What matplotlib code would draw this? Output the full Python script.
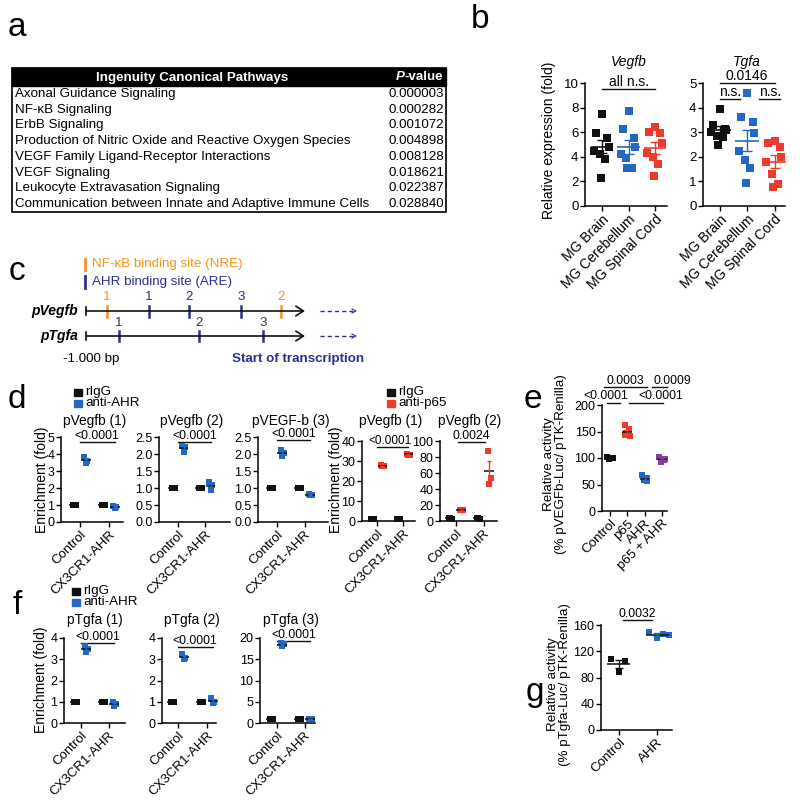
import numpy as np
import matplotlib
matplotlib.use('Agg')
import matplotlib.pyplot as plt
from matplotlib.patches import Rectangle

plt.rcParams['font.family'] = ['Liberation Sans', 'DejaVu Sans']

W, H = 800, 801
BLACK = '#111111'; BLUE = '#2468c4'; RED = '#ee3a2c'; PURPLE = '#8a3e97'
ORANGE = '#f7941d'; NAVY = '#2b2f8f'

# ---------------- data ----------------
# panel a
pathways = ['Axonal Guidance Signaling', 'NF-κB Signaling', 'ErbB Signaling',
            'Production of Nitric Oxide and Reactive Oxygen Species',
            'VEGF Family Ligand-Receptor Interactions', 'VEGF Signaling',
            'Leukocyte Extravasation Signaling',
            'Communication between Innate and Adaptive Immune Cells']
pvalues = [0.000003, 0.000282, 0.001072, 0.004898, 0.008128, 0.018621, 0.022387, 0.028840]

# panel b
b_groups = ['MG Brain', 'MG Cerebellum', 'MG Spinal Cord']
vegfb_brain = [7.45, 5.95, 5.5, 4.8, 4.45, 4.25, 3.8, 2.3]
vegfb_cereb = [7.75, 6.25, 5.5, 4.8, 4.2, 3.9, 3.1, 3.1]
vegfb_spinal = [6.4, 6.0, 5.95, 5.1, 4.3, 4.0, 3.4, 2.4]
tgfa_brain = [3.95, 3.3, 3.15, 3.1, 3.0, 2.85, 2.8, 2.5]
tgfa_cereb = [4.6, 3.6, 3.42, 2.95, 2.25, 1.85, 1.55, 0.95]
tgfa_spinal = [2.65, 2.55, 2.4, 2.0, 1.8, 1.3, 0.9, 0.78]

# panel c (site positions in bp relative to start of transcription)
vegfb_nre = [-904, -110]
vegfb_are = [-712, -530, -292]
tgfa_are = [-849, -484, -192]

# panel d / f (ChIP enrichment), order: Control rIgG, Control Ab, CX3CR1 rIgG, CX3CR1 Ab
chip_conditions = ['Control', 'CX3CR1-AHR']
d1_vals = [[1.0, 1.0, 1.0], [3.8, 3.6, 3.5], [1.0, 1.0, 1.0], [0.95, 0.9, 0.85]]
d2_vals = [[1.0, 1.0, 1.0], [2.25, 2.2, 2.05], [1.0, 1.0, 1.0], [1.18, 1.08, 0.95]]
d3_vals = [[1.0, 1.0, 1.0], [2.12, 2.02, 1.95], [1.0, 1.0, 1.0], [0.82, 0.8, 0.78]]
d4_vals = [[1.2, 1.0, 1.1], [27.9, 27.5, 27.3], [1.0, 1.1, 1.0], [33.6, 33.2, 33.0]]
d5_vals = [[3.3, 3.0, 3.5], [14.0, 13.5, 13.2], [3.2, 3.0, 3.4], [87.0, 54.0, 46.0]]
f1_vals = [[1.0, 1.0, 1.0], [3.62, 3.5, 3.36], [1.0, 1.0, 1.0], [0.98, 0.9, 0.8]]
f2_vals = [[1.0, 1.0, 1.0], [3.25, 3.05, 3.0], [1.0, 1.0, 1.0], [1.2, 1.0, 0.95]]
f3_vals = [[1.0, 1.0, 1.0], [18.8, 18.5, 18.1], [1.0, 1.0, 1.0], [1.05, 1.0, 0.95]]

# panel e
e_groups = ['Control', 'p65', 'AHR', 'p65 + AHR']
e_control = [101, 100, 99, 100]
e_p65 = [162, 155, 148, 141, 143]
e_ahr = [67, 62, 58, 57]
e_p65ahr = [101, 97, 93, 99]

# panel g
g_groups = ['Control', 'AHR']
g_control = [108, 105, 88]
g_ahr = [150, 146, 140, 145]

# ---------------- helpers ----------------
fig = plt.figure(figsize=(W / 100, H / 100), dpi=100)
ov = fig.add_axes([0, 0, 1, 1])
ov.set_xlim(0, W); ov.set_ylim(H, 0); ov.axis('off')


def add_ax(x0, y0, x1, y1):
    return fig.add_axes([x0 / W, 1 - y1 / H, (x1 - x0) / W, (y1 - y0) / H])


def style(ax, fs=9):
    for s in ['top', 'right']:
        ax.spines[s].set_visible(False)
    for s in ['left', 'bottom']:
        ax.spines[s].set_linewidth(1.1)
    ax.tick_params(width=1.0, length=3.5, labelsize=fs, pad=1.2)
    ax.patch.set_alpha(0)


def xrot(ax, labels, fs):
    ax.set_xticklabels(labels, rotation=45, ha='right', va='top',
                       rotation_mode='anchor', fontsize=fs)


def group(ax, x, vals, color, s, hw, offs, meancol=None, cap=2.0, lw=1.2):
    vals = np.asarray(vals, float)
    offs = np.asarray(offs[:len(vals)])
    ax.scatter(x + offs, vals, s=s, marker='s', color=color, lw=0, zorder=3, clip_on=False)
    m = vals.mean(); se = vals.std(ddof=1) / np.sqrt(len(vals))
    ax.plot([x - hw, x + hw], [m, m], color=meancol or color, lw=lw, zorder=4,
            solid_capstyle='butt', clip_on=False)
    if se > 0:
        ax.errorbar(x, m, yerr=se, color=color, capsize=cap, lw=1.0, capthick=1.0,
                    zorder=4, fmt='none', clip_on=False)


def sig(ax, x0, x1, y, text, tx=None, ty=None, fs=9):
    ax.plot([x0, x1], [y, y], color=BLACK, lw=1.0, clip_on=False)
    ax.text((x0 + x1) / 2 if tx is None else tx, y if ty is None else ty, text,
            ha='center', va='bottom' if ty is None else 'center', fontsize=fs)


def label(x, y, t):
    ov.text(x, y, t, fontsize=24, ha='center', va='center')


# ---------------- panel a ----------------
label(17, 27, 'a')
TF = 9.6
ov.add_patch(Rectangle((12, 68), 434, 144, fill=False, lw=1.2, ec='black'))
ov.add_patch(Rectangle((12, 68), 434, 18, color='black'))
ov.text(192, 77.5, 'Ingenuity Canonical Pathways', color='white', weight='bold',
        ha='center', va='center', fontsize=TF)
tv = ov.text(443, 77.5, '-value', color='white', weight='bold', ha='right', va='center', fontsize=TF)
fig.canvas.draw()
bb = tv.get_window_extent()
xl = ov.transData.inverted().transform((bb.x0, bb.y0))[0]
ov.text(xl, 77.5, 'P', color='white', weight='bold', style='italic', ha='right', va='center', fontsize=TF)
rh = 126 / len(pathways)
for i, (p, v) in enumerate(zip(pathways, pvalues)):
    y = 86 + rh * (i + 0.5)
    ov.text(15, y, p, ha='left', va='center', fontsize=TF)
    ov.text(444, y, f'{v:.6f}', ha='right', va='center', fontsize=TF)

# ---------------- panel b ----------------
label(480, 20, 'b')
offs8 = [0.0, -0.22, 0.2, 0.25, -0.3, -0.08, 0.12, -0.05]
bx = np.arange(3)
axb1 = add_ax(585, 83, 667, 206)
style(axb1, 9.5)
for i, (vals, c) in enumerate(zip([vegfb_brain, vegfb_cereb, vegfb_spinal], [BLACK, BLUE, RED])):
    group(axb1, i, vals, c, 26, 0.42, offs8, cap=3.5)
axb1.set_xlim(-0.64, 2.45); axb1.set_ylim(0, 10)
axb1.set_yticks([0, 2, 4, 6, 8, 10])
axb1.set_xticks(bx); xrot(axb1, b_groups, 10)
sig(axb1, 0, 2, 9.5, 'all n.s.', fs=10)
axb1.text(1, 11.7, 'Vegfb', style='italic', ha='center', va='center', fontsize=10)

axb2 = add_ax(703, 83, 785, 206)
style(axb2, 9.5)
for i, (vals, c) in enumerate(zip([tgfa_brain, tgfa_cereb, tgfa_spinal], [BLACK, BLUE, RED])):
    group(axb2, i, vals, c, 26, 0.42, offs8, cap=3.5)
axb2.set_xlim(-0.6, 2.38); axb2.set_ylim(0, 5)
axb2.set_yticks([0, 1, 2, 3, 4, 5])
axb2.set_xticks(bx); xrot(axb2, b_groups, 10)
sig(axb2, 0, 2, 5.0, '0.0146', fs=10)
sig(axb2, 0, 0.75, 4.35, 'n.s.', fs=10)
sig(axb2, 1.45, 2.2, 4.35, 'n.s.', fs=10)
axb2.text(1, 5.85, 'Tgfa', style='italic', ha='center', va='center', fontsize=10)
ov.text(549, 140, 'Relative expression (fold)', rotation=90, ha='center', va='center', fontsize=10)

# ---------------- panel c ----------------
CF = 9.6
label(17, 272, 'c')
ov.plot([85, 85], [259, 270], color=ORANGE, lw=2)
ov.text(92, 264.5, 'NF-κB binding site (NRE)', color=ORANGE, va='center', fontsize=CF)
ov.plot([85, 85], [276, 288], color=NAVY, lw=2)
ov.text(92, 282, 'AHR binding site (ARE)', color=NAVY, va='center', fontsize=CF)
axc = add_ax(86, 290, 305, 345)
axc.set_xlim(-1000, 0); axc.set_ylim(345, 290); axc.axis('off')
for yrow, nre, are in [(311, vegfb_nre, vegfb_are), (336, [], tgfa_are)]:
    axc.annotate('', xy=(0, yrow), xytext=(-1000, yrow),
                 arrowprops=dict(arrowstyle='->,head_length=0.55,head_width=0.35', lw=1.2, color=BLACK,
                                 shrinkA=0, shrinkB=0))
    axc.plot([-1000, -1000], [yrow - 4, yrow + 4], color=BLACK, lw=1.2, clip_on=False)
    for k, p in enumerate(nre):
        axc.plot([p, p], [yrow - 5.5, yrow + 5.5], color=ORANGE, lw=1.8, clip_on=False)
        axc.text(p, yrow - 13.5, str(k + 1), color=ORANGE, ha='center', va='center', fontsize=CF)
    for k, p in enumerate(are):
        axc.plot([p, p], [yrow - 5.5, yrow + 5.5], color=NAVY, lw=1.8, clip_on=False)
        axc.text(p, yrow - 13.5, str(k + 1), color=NAVY, ha='center', va='center', fontsize=CF)
for yrow, name in [(311, 'pVegfb'), (336, 'pTgfa')]:
    ov.text(78, yrow, name, weight='bold', style='italic', ha='right', va='center', fontsize=10)
    ov.plot([320, 353], [yrow, yrow], color=NAVY, lw=1.0, ls=(0, (3, 2.2)))
    ov.plot([352, 356, 352], [yrow - 2, yrow, yrow + 2], color=NAVY, lw=0.8)
ov.text(63, 359, '-1.000 bp', ha='left', va='center', fontsize=CF)
ov.text(232, 359, 'Start of transcription', color=NAVY, weight='bold', ha='left', va='center', fontsize=CF)

# ---------------- panels d / f ----------------
offs3 = [-0.05, 0.06, 0.0]


def chip(box, p1, p2, vals, abcol, ylim, yticks, fmt, title, title_y, sigy, sigtext,
         sigx=(1.0, 2.2), sigtx=None, sigfs=8.8):
    x0, y0, x1, y1 = box
    ax = add_ax(x0, y0, x1, y1)
    style(ax, 9)
    sc = p2 - p1
    ax.set_xlim(0.8 - (p1 - x0) / sc, 0.8 + (x1 - p1) / sc)
    pos = [0.8, 1.2, 1.8, 2.2]
    cols = [BLACK, abcol, BLACK, abcol]
    for xp, v, c in zip(pos, vals, cols):
        group(ax, xp, v, c, 13, 0.17, offs3, meancol=BLACK, cap=1.5, lw=1.1)
    ax.set_ylim(*ylim)
    ax.set_yticks(yticks)
    ax.set_yticklabels([fmt.format(t) for t in yticks])
    ax.set_xticks([1, 2]); xrot(ax, chip_conditions, 9.5)
    sig(ax, sigx[0], sigx[1], sigy, sigtext, tx=sigtx, fs=sigfs)
    tyd = ylim[1] + (ylim[1] - ylim[0]) * (y0 - title_y) / (y1 - y0)
    ax.text(1.5, tyd, title, ha='center', va='center', fontsize=9.8)
    return ax


label(17, 400, 'd')
chip((61, 437, 123, 522), 74, 103, d1_vals, BLUE, (0, 5), [0, 1, 2, 3, 4, 5], '{:g}', 'pVegfb (1)', 421, 4.72, '<0.0001')
chip((159, 437, 230, 522), 173, 200, d2_vals, BLUE, (0, 2.5), [0, 0.5, 1, 1.5, 2, 2.5], '{:.1f}', 'pVegfb (2)', 421, 2.36, '<0.0001')
chip((258, 437, 328, 522), 271, 299, d3_vals, BLUE, (0, 2.5), [0, 0.5, 1, 1.5, 2, 2.5], '{:.1f}', 'pVEGF-b (3)', 421, 2.42, '<0.0001')
chip((362, 441, 415, 521), 372, 398, d4_vals, RED, (0, 40), [0, 10, 20, 30, 40], '{:g}', 'pVegfb (1)', 421, 37.2, '<0.0001',
     sigtx=1.5, sigfs=8.5)
chip((440, 441, 497, 521), 450, 478, d5_vals, RED, (0, 100), [0, 20, 40, 60, 80, 100], '{:g}', 'pVegfb (2)', 421, 98.5, '0.0024', sigx=(1.1, 2.05))
ov.text(42, 480, 'Enrichment (fold)', rotation=90, ha='center', va='center', fontsize=10)
ov.text(336, 480, 'Enrichment (fold)', rotation=90, ha='center', va='center', fontsize=10)


def legend(x, y, items):
    for k, (c, t) in enumerate(items):
        yy = y + k * 11
        ov.add_patch(Rectangle((x, yy - 3), 8, 6.5, color=c))
        ov.text(x + 11, yy, t, va='center', ha='left', fontsize=9.6)


legend(74, 392, [(BLACK, 'rIgG'), (BLUE, 'anti-AHR')])
legend(387, 392, [(BLACK, 'rIgG'), (RED, 'anti-p65')])

label(17, 605, 'f')
chip((64, 638, 125, 723), 75, 103, f1_vals, BLUE, (0, 4), [0, 1, 2, 3, 4], '{:g}', 'pTgfa (1)', 620, 3.76, '<0.0001')
chip((162, 638, 216, 723), 172, 201, f2_vals, BLUE, (0, 4), [0, 1, 2, 3, 4], '{:g}', 'pTgfa (2)', 620, 3.57, '<0.0001')
chip((260, 638, 315, 723), 271, 299, f3_vals, BLUE, (0, 20), [0, 5, 10, 15, 20], '{:g}', 'pTgfa (3)', 620, 19.4, '<0.0001')
ov.text(41, 680, 'Enrichment (fold)', rotation=90, ha='center', va='center', fontsize=10)
legend(72, 591, [(BLACK, 'rIgG'), (BLUE, 'anti-AHR')])

# ---------------- panel e ----------------
label(533, 400, 'e')
axe = add_ax(602, 405, 667, 511)
style(axe, 9)
offs5 = [-0.15, 0.12, -0.05, 0.15, -0.12]
for i, (vals, c) in enumerate(zip([e_control, e_p65, e_ahr, e_p65ahr], [BLACK, RED, BLUE, PURPLE])):
    group(axe, i, vals, c, 20, 0.28, offs5, meancol=BLACK, cap=2.5, lw=1.1)
axe.set_xlim(-0.46, 3.29); axe.set_ylim(0, 200)
axe.set_yticks([0, 50, 100, 150, 200])
axe.set_xticks(range(4)); xrot(axe, e_groups, 9.6)
sig(axe, -0.17, 0.58, 203.8, '<0.0001', tx=-0.25, ty=217, fs=8.8)
sig(axe, 1.1, 3.06, 203.8, '<0.0001', tx=2.95, ty=217, fs=8.8)
sig(axe, -0.35, 2.14, 234, '0.0003', tx=0.87, ty=246, fs=8.8)
sig(axe, 2.43, 3.3, 234, '0.0009', tx=3.6, ty=246, fs=8.8)
ov.text(555, 464, 'Relative activity\n(% pVEGFb-Luc/ pTK-Renilla)', rotation=90, ha='center',
        va='center', multialignment='center', fontsize=9.6, linespacing=1.0)

# ---------------- panel g ----------------
label(535, 692, 'g')
axg = add_ax(601, 625, 672, 730)
style(axg, 9)
for i, (vals, c) in enumerate(zip([g_control, g_ahr], [BLACK, BLUE])):
    group(axg, i, vals, c, 20, 0.3, [-0.22, 0.15, 0.0, 0.3], meancol=BLACK, cap=3.0, lw=1.1)
axg.set_xlim(-0.47, 1.39); axg.set_ylim(0, 160)
axg.set_yticks([0, 40, 80, 120, 160])
axg.set_xticks([0, 1]); xrot(axg, g_groups, 9.6)
sig(axg, 0.1, 0.87, 167.6, '0.0032', fs=8.8)
ov.text(559, 684, 'Relative activity\n(% pTgfa-Luc/ pTK-Renilla)', rotation=90, ha='center',
        va='center', multialignment='center', fontsize=9.6, linespacing=1.0)

fig.savefig('out.png', dpi=100)
